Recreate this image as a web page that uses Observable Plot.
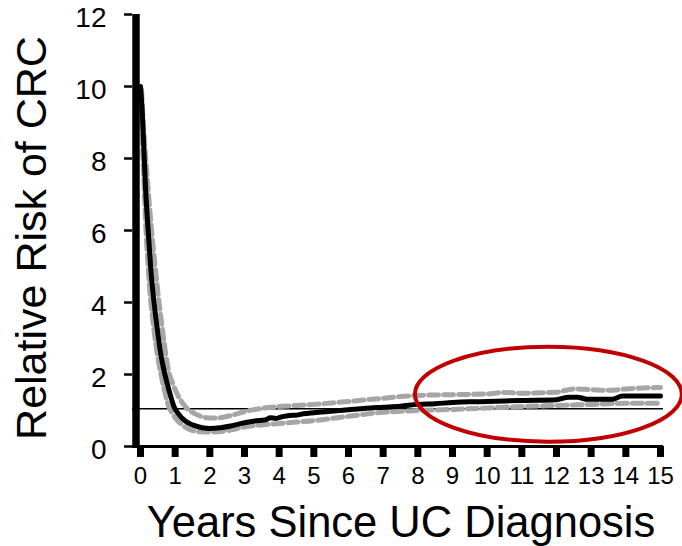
<!DOCTYPE html>
<html><head><meta charset="utf-8">
<script src="https://cdn.jsdelivr.net/npm/d3@7"></script>
<script src="https://cdn.jsdelivr.net/npm/@observablehq/plot@0.6"></script>
<style>body{margin:0;background:#fff}</style>
</head><body><div id="chart"></div>
<script>
// Central estimate of relative risk
const estYears = [0, 0.05, 0.1, 0.15, 0.2, 0.25, 0.3, 0.38, 0.48, 0.58, 0.68, 0.77, 0.87, 0.96, 1.1, 1.3, 1.5, 1.78, 2.0, 2.3, 2.6, 3.0, 3.3, 3.6, 3.75, 3.9, 4.1, 4.3, 4.5, 4.7, 5.0, 5.5, 6.0, 6.5, 7.0, 7.5, 8.0, 8.5, 9.0, 9.5, 10, 11, 12.0, 12.35, 12.6, 12.9, 13.6, 13.9, 14.5, 15];
const estRR    = [10, 9.3, 8.2, 7.1, 6.3, 5.6, 4.9, 4.1, 3.3, 2.6, 2.1, 1.75, 1.4, 1.12, 0.9, 0.7, 0.6, 0.52, 0.5, 0.52, 0.57, 0.66, 0.71, 0.74, 0.8, 0.78, 0.83, 0.86, 0.87, 0.91, 0.94, 0.98, 1.02, 1.06, 1.09, 1.12, 1.17, 1.19, 1.22, 1.24, 1.25, 1.28, 1.3, 1.37, 1.37, 1.31, 1.31, 1.4, 1.4, 1.4];
// Upper confidence bound
const upperYears = [0.03, 0.1, 0.2, 0.3, 0.4, 0.5, 0.6, 0.68, 0.8, 0.95, 1.1, 1.3, 1.6, 1.9, 2.2, 2.6, 3.0, 3.5, 4.0, 4.5, 5.0, 6.0, 7.0, 8.0, 9.0, 10.0, 10.5, 11.0, 12.0, 12.5, 13.0, 13.5, 14.0, 15];
const upperRR    = [9.9, 8.7, 7.4, 6.2, 5.2, 4.3, 3.5, 2.9, 2.15, 1.7, 1.38, 1.1, 0.9, 0.8, 0.79, 0.86, 0.97, 1.06, 1.11, 1.14, 1.17, 1.25, 1.34, 1.42, 1.44, 1.46, 1.5, 1.48, 1.51, 1.6, 1.58, 1.56, 1.6, 1.64];
// Lower confidence bound
const lowerYears = [0.02, 0.08, 0.15, 0.22, 0.29, 0.38, 0.48, 0.58, 0.67, 0.8, 0.9, 1.0, 1.2, 1.4, 1.7, 2.0, 2.5, 3.0, 3.5, 4.0, 4.5, 5.0, 6.0, 7.0, 8.0, 9.0, 10, 11, 12, 13, 14, 15];
const lowerRR    = [9.5, 7.8, 6.2, 5.0, 4.1, 3.3, 2.6, 2.05, 1.65, 1.15, 0.95, 0.8, 0.6, 0.48, 0.41, 0.4, 0.44, 0.54, 0.6, 0.64, 0.68, 0.72, 0.84, 0.95, 1.0, 1.03, 1.07, 1.11, 1.14, 1.17, 1.2, 1.2];

const referenceRR = [1.05];
const xTicks = [0,1,2,3,4,5,6,7,8,9,10,11,12,13,14,15];
const yTicks = [0,2,4,6,8,10,12];
const xTitle = "Years Since UC Diagnosis";
const yTitle = "Relative Risk of CRC";
// highlighted region (data units)
const highlight = {cx: 11.78, cy: 1.44, rx: 3.85, ry: 1.32};

const est = estYears.map((x, i) => ({x, y: estRR[i]}));
const upper = upperYears.map((x, i) => ({x, y: upperRR[i]}));
const lower = lowerYears.map((x, i) => ({x, y: lowerRR[i]}));

const highlightMark = (index, scales) => {
  const cx = scales.x(highlight.cx), cy = scales.y(highlight.cy);
  const rx = scales.x(highlight.cx + highlight.rx) - cx;
  const ry = cy - scales.y(highlight.cy + highlight.ry);
  return d3.create("svg:ellipse")
    .attr("cx", cx).attr("cy", cy).attr("rx", rx).attr("ry", ry)
    .attr("fill", "none").attr("stroke", "#c00000").attr("stroke-width", 4)
    .node();
};

const chart = Plot.plot({
  width: 682, height: 546,
  marginLeft: 132, marginRight: 19, marginTop: 14, marginBottom: 100,
  x: {domain: [0, 15], range: [140, 660]},
  y: {domain: [0, 12]},
  style: {fontFamily: "'Liberation Sans', Arial, sans-serif", background: "#fff", color: "#000"},
  marks: [
    Plot.ruleY(referenceRR, {stroke: "#000", strokeWidth: 1.5}),
    Plot.line(upper, {x: "x", y: "y", stroke: "#a6a6a6", strokeWidth: 5, strokeDasharray: "10,5", curve: "monotone-x"}),
    Plot.line(lower, {x: "x", y: "y", stroke: "#a6a6a6", strokeWidth: 5, strokeDasharray: "10,5", curve: "monotone-x"}),
    Plot.line(est, {x: "x", y: "y", stroke: "#000", strokeWidth: 5, curve: "monotone-x"}),
    Plot.ruleY([0], {stroke: "#000", strokeWidth: 3}),
    Plot.ruleX([0], {dx: -4.5, stroke: "#000", strokeWidth: 7.5}),
    Plot.axisX(xTicks, {tickSize: 11, strokeWidth: 7, tickPadding: 9, fontSize: 24, label: null}),
    Plot.axisY(yTicks, {tickSize: 8, strokeWidth: 2.5, fill: "none", label: null}),
    Plot.axisY(yTicks, {tickSize: 8, tickPadding: 18, stroke: "none", fontSize: 28, dy: 4, label: null}),
    Plot.text([xTitle], {text: d => d, frameAnchor: "bottom", dx: 3, dy: 77, fontSize: 43.5, lineAnchor: "middle", fill: "#000"}),
    Plot.text([yTitle], {text: d => d, frameAnchor: "left", textAnchor: "middle", rotate: -90, dx: -100.5, dy: 7.5, fontSize: 43, lineAnchor: "middle", fill: "#000"}),
    highlightMark
  ]
});
document.getElementById("chart").append(chart);
</script>
</body></html>
